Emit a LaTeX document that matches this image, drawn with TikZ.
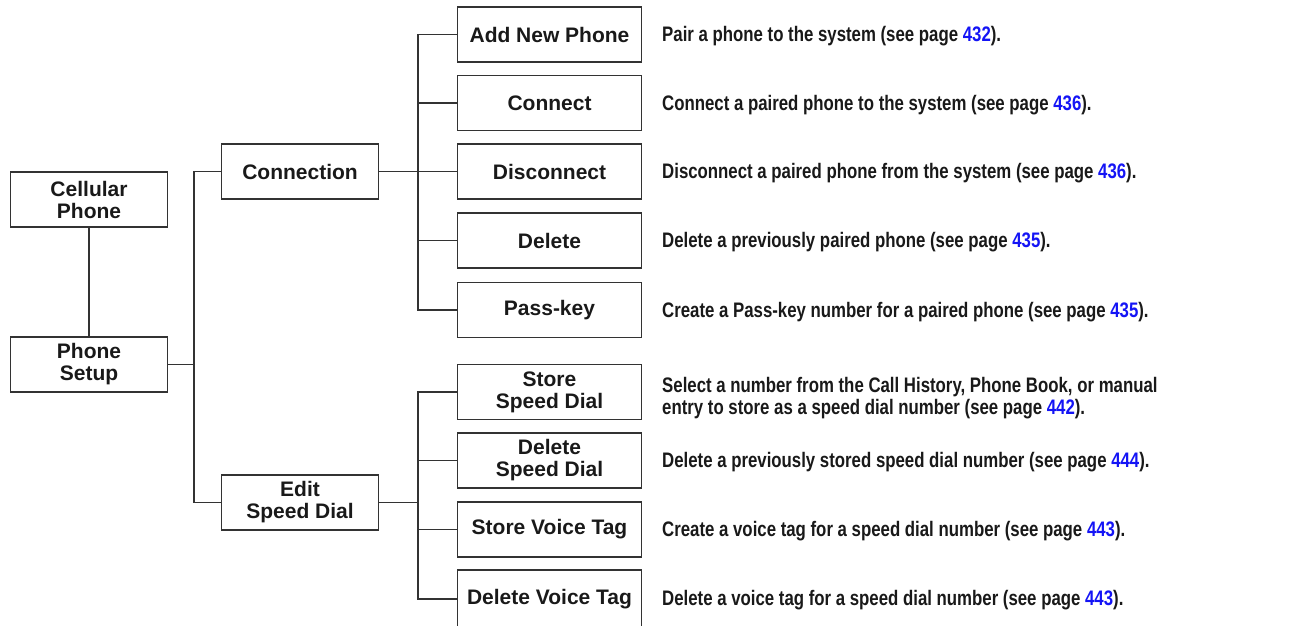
\documentclass[tikz,border=0pt]{standalone}
\usepackage{fontspec}
\setmainfont{Liberation Sans}
\newfontfamily\descfont[FakeStretch=0.8]{Liberation Sans}
\usepackage{tikz}

\newcommand{\pg}[1]{\textcolor{pageblue}{#1}}
\definecolor{pageblue}{RGB}{20,20,245}

\begin{document}
\begin{tikzpicture}[x=1pt, y=-1pt,
        menu/.style={rectangle, draw=black!80, line width=1.3pt, text=black!90, inner sep=0pt,
            font=\bfseries\fontsize{21}{22}\selectfont, align=center, minimum height=55pt},
        upper/.style={menu, minimum width=157pt},
        leaf/.style={menu, minimum width=184pt},
        desc/.style={anchor=west, align=left, inner sep=0pt, text=black!90, yshift=-2pt,
            font=\descfont\bfseries\fontsize{21}{22}\selectfont},
        link/.style={draw=black!80, line width=1.3pt}
    ]
        \useasboundingbox (0,0) rectangle (1295,625);

        % Nodes
        \node[upper] (cell) at (89, 199.5) {Cellular\\Phone};
        \node[upper] (setup) at (89, 364.5) {Phone\\Setup};
        \node[upper] (conn) at (300, 171.5) {Connection};
        \node[upper] (edit) at (300, 502.5) {Edit\\Speed Dial};

        \node[leaf] (addnew) at (549.5, 34.5) {Add New Phone};
        \node[leaf] (connect) at (549.5, 103) {Connect};
        \node[leaf] (disconn) at (549.5, 171.5) {Disconnect};
        \node[leaf] (delete) at (549.5, 240.5) {Delete};
        \node[leaf] (passkey) at (549.5, 310) {Pass-key};
        \node[leaf] (storesd) at (549.5, 392) {Store\\Speed Dial};
        \node[leaf] (deletesd) at (549.5, 460.5) {Delete\\Speed Dial};
        \node[leaf] (storevt) at (549.5, 529.5) {Store Voice Tag};
        \node[leaf, minimum height=58pt] (deletevt) at (549.5, 599) {Delete Voice Tag};

        % Descriptions
        \node[desc] (d1) at (662, 34.5) {Pair a phone to the system (see page \pg{432}).};
        \node[desc] (d2) at (662, 103) {Connect a paired phone to the system (see page \pg{436}).};
        \node[desc] (d3) at (662, 171.5) {Disconnect a paired phone from the system (see page \pg{436}).};
        \node[desc] (d4) at (662, 240.5) {Delete a previously paired phone (see page \pg{435}).};
        \node[desc] (d5) at (662, 310) {Create a Pass-key number for a paired phone (see page \pg{435}).};
        \node[desc] (d6) at (662, 396) {Select a number from the Call History, Phone Book, or manual\\entry to store as a speed dial number (see page \pg{442}).};
        \node[desc] (d7) at (662, 460.5) {Delete a previously stored speed dial number (see page \pg{444}).};
        \node[desc] (d8) at (662, 529.5) {Create a voice tag for a speed dial number (see page \pg{443}).};
        \node[desc] (d9) at (662, 598) {Delete a voice tag for a speed dial number (see page \pg{443}).};

        % Edges
        \draw[link] (cell) -- (setup);
        \draw[link] (setup.east) -- ++(26,0);
        \draw[link] (conn.west) -- ++(-27,0) |- (edit.west);

        \draw[link] (conn.east) -- (disconn.west);
        \draw[link] (addnew.west) -- ++(-39,0) |- (passkey.west);
        \draw[link] (connect.west) -- ++(-39,0);
        \draw[link] (delete.west) -- ++(-39,0);

        \draw[link] (edit.east) -- ++(39,0);
        \draw[link] (storesd.west) -- ++(-39,0) |- (deletevt.west);
        \draw[link] (deletesd.west) -- ++(-39,0);
        \draw[link] (storevt.west) -- ++(-39,0);

    \end{tikzpicture}
\end{document}
